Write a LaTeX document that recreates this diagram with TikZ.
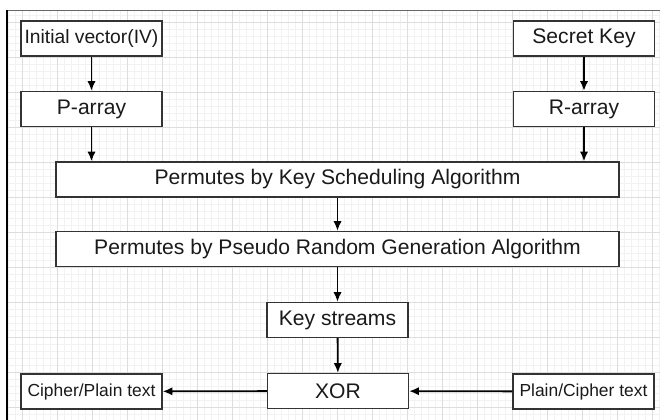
\documentclass[tikz,border=0pt]{standalone}
\usepackage{fontspec}
\setmainfont{Liberation Sans}
\usetikzlibrary{arrows.meta}

\definecolor{boxline}{HTML}{333333}
\definecolor{textcol}{HTML}{1A1A1A}
\definecolor{gridminor}{HTML}{F2F2F2}
\definecolor{gridmajor}{HTML}{DDDDDD}

\tikzset{>={Latex[length=7pt,width=6pt]}}
\tikzset{
  block/.style={draw=boxline,line width=0.9pt,fill=white,text=textcol,
    minimum width=141*0.025cm,minimum height=35*0.025cm,inner sep=0pt,
    font=\fontsize{15}{18}\selectfont},
  wide/.style={block,minimum width=563*0.025cm},
  small/.style={font=\fontsize{12.4}{15}\selectfont},
  flow/.style={->,line width=1.3pt,black}
}

\begin{document}
\begin{tikzpicture}[x=0.025cm,y=-0.025cm]
  \useasboundingbox (0,0) rectangle (660,420);
  % grid
  \foreach \X in {8,15,...,659} {
    \draw[gridminor,line width=0.4pt] (\X,10) -- (\X,420);
  }
  \foreach \Y in {15,22,...,419} {
    \draw[gridminor,line width=0.4pt] (7,\Y) -- (660,\Y);
  }
  \foreach \X in {22,57,...,659} {
    \draw[gridmajor,line width=0.5pt] (\X,10) -- (\X,420);
  }
  \foreach \Y in {22,57,...,419} {
    \draw[gridmajor,line width=0.5pt] (7,\Y) -- (660,\Y);
  }
  % frame
  \draw[gray!80!black,line width=0.6pt] (7,10) -- (660,10);
  \draw[black,line width=1.6pt] (7,10) -- (7,420);
  % boxes
  \node[block,font=\fontsize{13.7}{16}\selectfont] (iv) at (91.5,38.5) {Initial vector(IV)};
  \node[block] (parr) at (91.5,109) {P-array};
  \node[block] (key) at (584,38.5) {Secret Key};
  \node[block] (rarr) at (584,109) {R-array};
  \node[wide] (ksa) at (337.5,179.5) {Permutes by Key Scheduling Algorithm};
  \node[wide] (prga) at (337.5,249) {Permutes by Pseudo Random Generation Algorithm};
  \node[block] (ks) at (337.5,320) {Key streams};
  \node[block] (xor) at (338,391) {XOR};
  \node[block,small] (cpt) at (91.5,391.5) {Cipher/Plain text};
  \node[block,small] (pct) at (583.5,391.5) {Plain/Cipher text};
  % arrows
  \draw[flow] (iv) -- (parr);
  \draw[flow] (key) -- (rarr);
  \draw[flow] (parr.south) -- (parr.south |- ksa.north);
  \draw[flow] (rarr.south) -- (rarr.south |- ksa.north);
  \draw[flow] (ksa) -- (prga);
  \draw[flow] (prga) -- (ks);
  \draw[flow] (ks) -- (xor);
  \draw[flow] (xor) -- (cpt);
  \draw[flow] (pct) -- (xor);
\end{tikzpicture}
\end{document}
